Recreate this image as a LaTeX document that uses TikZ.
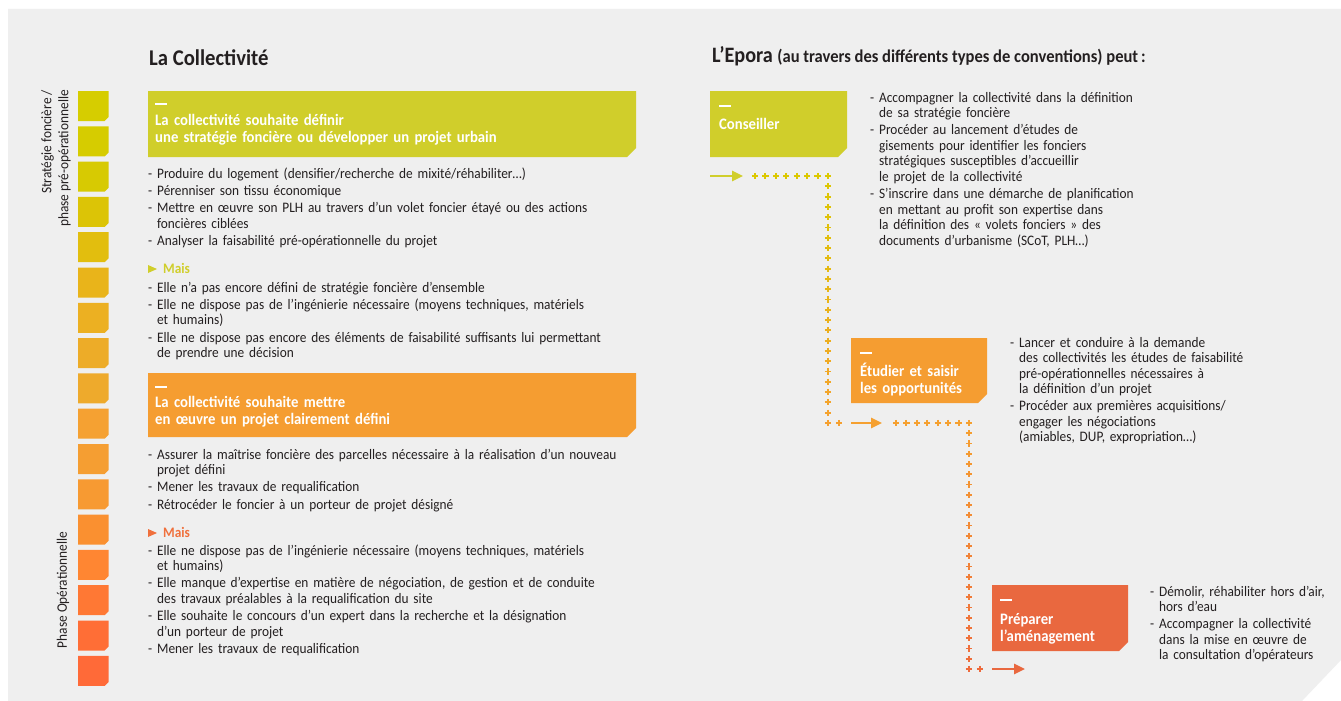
\documentclass[tikz,border=0pt]{standalone}
\usepackage{fontspec}
\setmainfont{Carlito}[FakeStretch=0.92]
\usetikzlibrary{arrows.meta,calc}
\definecolor{panel}{HTML}{EFEFEF}
\definecolor{ink}{HTML}{231F20}
\definecolor{lime}{HTML}{D0CE2B}
\definecolor{amber}{HTML}{F59D31}
\definecolor{brick}{HTML}{E9683F}
\definecolor{limeplus}{HTML}{DCC800}
\definecolor{amberplus}{HTML}{F5A030}
\definecolor{brickplus}{HTML}{EE6A3C}
\definecolor{maisred}{HTML}{F0703C}
\tikzset{
  listtext/.style={font=\fontsize{14.5}{15.5}\selectfont,text=ink,align=left,text width=#1,inner sep=0pt,anchor=base west},
  boxtext/.style={font=\bfseries\fontsize{16}{17}\selectfont,text=white,align=left,text width=#1,inner sep=0pt,anchor=base west},
  maistext/.style={font=\bfseries\fontsize{14.5}{17}\selectfont,inner sep=0pt,anchor=base west},
  sidetext/.style={font=\fontsize{14.5}{17}\selectfont,text=ink,rotate=90,inner sep=0pt},
  headtext/.style={font=\bfseries\fontsize{22.5}{26}\selectfont,text=ink,inner sep=0pt,anchor=base west},
  fleche/.style={line width=2.6pt,-{Triangle[length=11pt,width=10pt]}},
  crossmark/.style={line width=1.9pt},
  tiret/.style={white,line width=1.8pt}
}
\newcommand{\cutbox}[5]{\fill[#5] (#1,#2) -- (#3,#2) -- (#3,#4-9) -- (#3-9,#4) -- (#1,#4) -- cycle;}
\newcommand{\pluscross}[3]{\draw[crossmark,#3] (#1-3.1,#2) -- (#1+3.1,#2) (#1,#2-3.1) -- (#1,#2+3.1);}

\begin{document}
\begin{tikzpicture}[x=1pt,y=-1pt]
\useasboundingbox (0,0) rectangle (1341,701);
\fill[white] (0,0) rectangle (1341,701);
\fill[panel] (8,9) -- (1341,9) -- (1341,660) -- (1302,701) -- (8,701) -- cycle;

% phases
\foreach \i/\red/\grn/\blu in {0/214/205/0,1/214/204/0,2/215/202/2,3/220/196/6,4/226/190/14,5/233/180/26,6/236/176/34,7/237/172/40,8/238/170/44,9/245/161/50,10/245/158/50,11/247/154/50,12/250/144/48,13/255/134/50,14/255/120/52,15/255/110/54,16/255/106/56}{
  \pgfmathsetmacro\t{91+35.3*\i}
  \fill[fill={rgb,255:red,\red;green,\grn;blue,\blu}] (78,\t) -- (108.7,\t) -- (108.7,\t+26) -- (104.7,\t+30) -- (78,\t+30) -- cycle;
}
\node[sidetext,anchor=east,align=right] (phase1) at (56,90) {Stratégie foncière /\\phase pré-opérationnelle};
\node[sidetext] (phase2) at (63,590) {Phase Opérationnelle};

% la collectivite
\node[headtext] (coll) at (149,66) {La Collectivité};

\cutbox{148}{91}{636}{157}{lime}
\draw[tiret] (155,104) -- +(12,0);
\node[boxtext=470pt] (veut1) at (155,125) {La collectivité souhaite définir\\une stratégie foncière ou développer un projet urbain};

\node[listtext=520pt] (liste1) at (148,178) {- Produire du logement (densifier/recherche de mixité/réhabiliter…)\\[1.8pt]
- Pérenniser son tissu économique\\[1.8pt]
- Mettre en œuvre son PLH au travers d’un volet foncier étayé ou des actions\\
\hphantom{- }foncières ciblées\\[1.8pt]
- Analyser la faisabilité pré-opérationnelle du projet};

\fill[lime] (148,265) -- (157,269) -- (148,273) -- cycle;
\node[maistext,text=lime] (mais1) at (163,273) {Mais};
\node[listtext=520pt] (liste2) at (148,292) {- Elle n’a pas encore défini de stratégie foncière d’ensemble\\[1.8pt]
- Elle ne dispose pas de l’ingénierie nécessaire (moyens techniques, matériels\\
\hphantom{- }et humains)\\[1.8pt]
- Elle ne dispose pas encore des éléments de faisabilité suffisants lui permettant\\
\hphantom{- }de prendre une décision};

\cutbox{148}{373}{636}{437}{amber}
\draw[tiret] (155,387) -- +(12,0);
\node[boxtext=470pt] (veut2) at (155,407) {La collectivité souhaite mettre\\en œuvre un projet clairement défini};

\node[listtext=520pt] (liste3) at (148,459) {- Assurer la maîtrise foncière des parcelles nécessaire à la réalisation d’un nouveau\\
\hphantom{- }projet défini\\[1.8pt]
- Mener les travaux de requalification\\[1.8pt]
- Rétrocéder le foncier à un porteur de projet désigné};

\fill[maisred] (148,529) -- (157,533) -- (148,537) -- cycle;
\node[maistext,text=maisred] (mais2) at (163,537) {Mais};
\node[listtext=520pt] (liste4) at (148,555) {- Elle ne dispose pas de l’ingénierie nécessaire (moyens techniques, matériels\\
\hphantom{- }et humains)\\[1.8pt]
- Elle manque d’expertise en matière de négociation, de gestion et de conduite\\
\hphantom{- }des travaux préalables à la requalification du site\\[1.8pt]
- Elle souhaite le concours d’un expert dans la recherche et la désignation\\
\hphantom{- }d’un porteur de projet\\[1.8pt]
- Mener les travaux de requalification};

% l'epora
\node[headtext] (epora) at (712,63) {\fontsize{22}{26}\selectfont L’Epora {\fontsize{18}{22}\selectfont(au travers des différents types de conventions) peut\,:}};

\cutbox{710}{91}{847}{157}{lime}
\draw[tiret] (719,106) -- +(12,0);
\node[boxtext=125pt] (conseil) at (719,129) {Conseiller};
\node[listtext=280pt] (aide1) at (870,102) {- Accompagner la collectivité dans la définition\\
\hphantom{- }de sa stratégie foncière\\[1.8pt]
- Procéder au lancement d’études de\\
\hphantom{- }gisements pour identifier les fonciers\\
\hphantom{- }stratégiques susceptibles d’accueillir\\
\hphantom{- }le projet de la collectivité\\[1.8pt]
- S’inscrire dans une démarche de planification\\
\hphantom{- }en mettant au profit son expertise dans\\
\hphantom{- }la définition des « volets fonciers » des\\
\hphantom{- }documents d’urbanisme (SCoT, PLH…)};

\cutbox{851}{338}{987}{403}{amber}
\draw[tiret] (860,353) -- +(12,0);
\node[boxtext=125pt] (etude) at (860,376) {Étudier et saisir\\les opportunités};
\node[listtext=280pt] (aide2) at (1010,347) {- Lancer et conduire à la demande\\
\hphantom{- }des collectivités les études de faisabilité\\
\hphantom{- }pré-opérationnelles nécessaires à\\
\hphantom{- }la définition d’un projet\\[1.8pt]
- Procéder aux premières acquisitions/\\
\hphantom{- }engager les négociations\\
\hphantom{- }(amiables, DUP, expropriation…)};

\cutbox{992}{585}{1128}{651}{brick}
\draw[tiret] (1000,600) -- +(12,0);
\node[boxtext=125pt] (amenag) at (1000,624) {Préparer\\l’aménagement};
\node[listtext=200pt] (aide3) at (1150,596) {- Démolir, réhabiliter hors d’air,\\
\hphantom{- }hors d’eau\\[1.8pt]
- Accompagner la collectivité\\
\hphantom{- }dans la mise en œuvre de\\
\hphantom{- }la consultation d’opérateurs};

% parcours
\coordinate (f1a) at (710,176);
\coordinate (f1b) at (743,176);
\coordinate (f2a) at (851,423);
\coordinate (f2b) at (882,423);
\coordinate (f3a) at (992,669);
\coordinate (f3b) at (1025,669);
\draw[fleche,lime] (f1a) -- (f1b);
\draw[fleche,amberplus] (f2a) -- (f2b);
\draw[fleche,brick] (f3a) -- (f3b);

\foreach \k in {0,...,7}{\pluscross{755+10.43*\k}{176}{limeplus}}
\foreach \k in {1,...,24}{
  \pgfmathtruncatemacro\p{100*\k/24}
  \pluscross{828}{176+10.29*\k}{amberplus!\p!limeplus}
}
\pluscross{839}{423}{amberplus}
\foreach \k in {0,...,7}{\pluscross{896+10.43*\k}{423}{amberplus}}
\foreach \k in {1,...,24}{
  \pgfmathtruncatemacro\p{100*\k/24}
  \pluscross{969}{423+10.25*\k}{brickplus!\p!amberplus}
}
\pluscross{980}{669}{brickplus}
\end{tikzpicture}
\end{document}
